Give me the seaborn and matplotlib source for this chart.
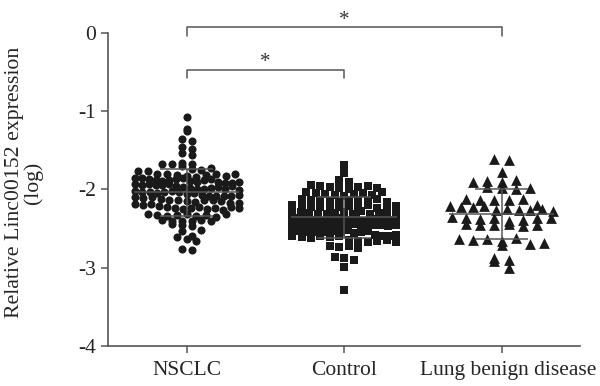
import numpy as np
import pandas as pd
import matplotlib
matplotlib.use('Agg')
import matplotlib.pyplot as plt
import matplotlib.transforms as mtransforms
import seaborn as sns

# ======================
# Data (log relative expression)
# ======================
groups = ['NSCLC', 'Control', 'Lung benign disease']

nsclc = [-1.07, -1.23, -1.26, -1.36, -1.38, -1.46, -1.48, -1.54, -1.56,
         -1.66, -1.68, -1.68, -1.70, -1.67, -1.74, -1.75, -1.76, -1.77, -1.73,
         -1.80, -1.81, -1.82, -1.83, -1.84, -1.82, -1.81, -1.83, -1.85, -1.80,
         -1.86, -1.87, -1.88, -1.89, -1.88, -1.87, -1.86, -1.89, -1.90, -1.88, -1.87,
         -1.91, -1.92, -1.93, -1.94, -1.93, -1.92, -1.95, -1.94, -1.91, -1.93,
         -1.96, -1.97, -1.98, -1.99, -2.00, -1.98, -1.97, -1.99, -1.96,
         -2.01, -2.02, -2.03, -2.04, -2.05, -2.03, -2.02, -2.04, -2.06, -2.05,
         -2.07, -2.08, -2.09, -2.10, -2.11, -2.09, -2.08, -2.10, -2.07,
         -2.12, -2.13, -2.14, -2.15, -2.16, -2.14, -2.13, -2.15,
         -2.18, -2.19, -2.20, -2.19, -2.18, -2.21,
         -2.23, -2.24, -2.25, -2.24, -2.23, -2.25, -2.24, -2.26, -2.23, -2.24,
         -2.32, -2.33, -2.34, -2.33, -2.32, -2.34, -2.33, -2.35, -2.32,
         -2.39, -2.40, -2.41, -2.40, -2.39, -2.41,
         -2.44, -2.45, -2.47, -2.52, -2.53, -2.59, -2.61, -2.64, -2.66, -2.76, -2.78]

control = [-1.69, -1.79, -1.88, -1.90,
           -1.95, -1.96, -1.97, -1.98, -1.99, -1.97, -1.96, -1.98,
           -2.04, -2.05, -2.06, -2.07, -2.08, -2.06, -2.05, -2.07, -2.04,
           -2.12, -2.13, -2.14, -2.15, -2.16, -2.14, -2.13, -2.15, -2.12, -2.16,
           -2.20, -2.21, -2.22, -2.23, -2.24, -2.22, -2.21, -2.23, -2.20, -2.24, -2.22, -2.21,
           -2.28, -2.29, -2.30, -2.31, -2.32, -2.30, -2.29, -2.31, -2.28, -2.32, -2.30, -2.29, -2.31,
           -2.36, -2.37, -2.38, -2.39, -2.40, -2.38, -2.37, -2.39, -2.36, -2.40, -2.38, -2.37, -2.39, -2.38,
           -2.44, -2.45, -2.46, -2.47, -2.48, -2.46, -2.45, -2.47, -2.44, -2.48, -2.46, -2.45, -2.47, -2.46,
           -2.52, -2.53, -2.54, -2.55, -2.56, -2.54, -2.53, -2.55, -2.52, -2.56, -2.54, -2.53,
           -2.58, -2.59, -2.60, -2.61, -2.62, -2.60, -2.59, -2.61, -2.58, -2.60,
           -2.65, -2.66, -2.67, -2.66, -2.65, -2.67,
           -2.72, -2.74, -2.73, -2.75, -2.86, -2.88, -2.90, -2.99, -3.28]

benign = [-1.61, -1.62, -1.78,
          -1.89, -1.90, -1.91, -1.88,
          -1.97, -1.98, -1.99, -1.98,
          -2.12, -2.13, -2.14, -2.13, -2.12,
          -2.20, -2.21, -2.22, -2.23, -2.21,
          -2.26, -2.25, -2.27, -2.26, -2.25, -2.28,
          -2.35, -2.37, -2.38, -2.36, -2.40, -2.39, -2.37, -2.36,
          -2.44, -2.45, -2.46, -2.44, -2.47, -2.45,
          -2.63, -2.65, -2.64, -2.66, -2.62,
          -2.70, -2.71, -2.69,
          -2.88, -2.90, -2.91, -3.01]

markers = ['o', 's', '^']
marker_area = [34, 28, 60]
row_height = [0.085, 0.085, 0.1]
col_step = [0.062, 0.06, 0.09]


# GraphPad-like scatter: bin values into rows and spread each row sideways
def row_offsets(vals, row_h, step, max_half=0.33):
    vals = np.asarray(vals)
    bins = np.floor((vals - vals.min()) / row_h).astype(int)
    off = np.zeros(len(vals))
    for b in np.unique(bins):
        idx = np.where(bins == b)[0]
        n = len(idx)
        if n > 1:
            s = min(step, 2 * max_half / (n - 1))
            off[idx] = (np.arange(n) - (n - 1) / 2) * s
    return off


frames = []
for i, (g, vals) in enumerate(zip(groups, [nsclc, control, benign])):
    frames.append(pd.DataFrame({'group': g, 'value': vals,
                                'xpos': i + row_offsets(vals, row_height[i], col_step[i])}))
df = pd.concat(frames, ignore_index=True)
stats = df.groupby('group', sort=False)['value'].agg(['mean', 'std']).reindex(groups)

# ======================
# Plot
# ======================
sns.set_style('ticks')
plt.rcParams['font.family'] = ['Liberation Serif', 'DejaVu Serif']
plt.rcParams['axes.unicode_minus'] = False

fig = plt.figure(figsize=(6.0, 3.86), dpi=100)
ax = fig.add_axes([0.18, 0.104, 0.787, 0.811])

for g, m, s in zip(groups, markers, marker_area):
    sns.scatterplot(data=df[df['group'] == g], x='xpos', y='value', marker=m, s=s,
                    color='#1a1a1a', linewidth=0, ax=ax, legend=False)

# mean +/- SD
lc = '#555555'
for i, (m, sd) in enumerate(zip(stats['mean'], stats['std'])):
    ax.hlines(m, i - 0.335, i + 0.335, color=lc, lw=1.1, zorder=5)
    ax.hlines([m - sd, m + sd], i - 0.17, i + 0.17, color=lc, lw=1.1, zorder=5)
    ax.vlines(i, m - sd, m + sd, color=lc, lw=1.1, zorder=5)

ax.set_xlim(-0.5, 2.5)
ax.set_ylim(-4, 0)
ax.set_xticks(range(len(groups)))
ax.set_xticklabels(groups)
ax.set_yticks([0, -1, -2, -3, -4])
ax.set_xlabel('')
ax.set_ylabel('Relative Linc00152 expression\n(log)', fontsize=15.7, linespacing=0.95)
ax.yaxis.set_label_coords(-0.137, 0.521)
ax.tick_params(axis='both', labelsize=15.5, length=5, width=1.1, color='#555555')
ax.tick_params(axis='x', pad=6)
for side in ['left', 'bottom']:
    ax.spines[side].set_color('#555555')
    ax.spines[side].set_linewidth(1.2)
sns.despine(ax=ax)

# last label sits a little right of its tick in the original
lab = ax.get_xticklabels()[-1]
lab.set_transform(lab.get_transform() + mtransforms.ScaledTranslation(7 / 100, 0, fig.dpi_scale_trans))

# significance brackets
bc = '#555555'
ax.plot([0, 0, 2, 2], [-0.04, 0.077, 0.077, -0.04], color=bc, lw=1.1, clip_on=False)
ax.plot([0, 0, 1, 1], [-0.575, -0.47, -0.47, -0.575], color=bc, lw=1.1, clip_on=False)
ax.text(1.0, 0.155, '*', ha='center', va='center', fontsize=15, color='#333333')
ax.text(0.5, -0.38, '*', ha='center', va='center', fontsize=15, color='#333333')

fig.savefig('out.png', dpi=100)
